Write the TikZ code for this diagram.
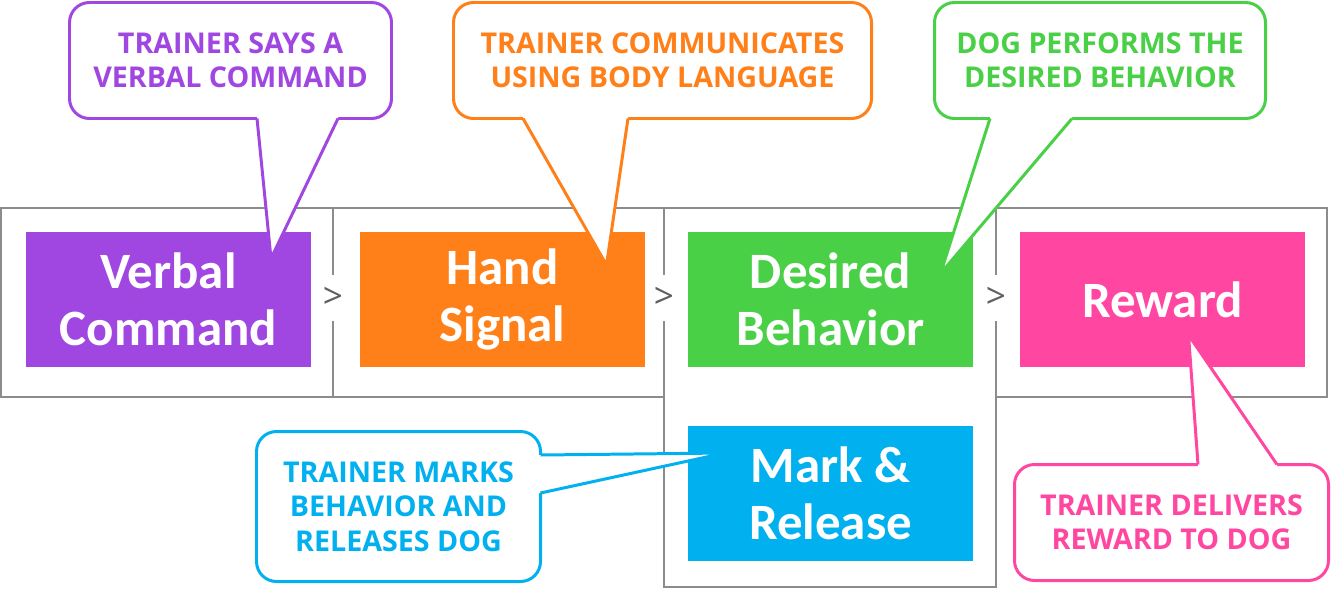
\documentclass[tikz,border=0pt]{standalone}
\usepackage{fontspec}
\usetikzlibrary{positioning, calc}
\newfontfamily\boxfont{Carlito}
\newfontfamily\notefont{Open Sans}
\definecolor{vpurple}{RGB}{160,71,226}
\definecolor{horange}{RGB}{255,127,24}
\definecolor{dgreen}{RGB}{74,208,71}
\definecolor{mblue}{RGB}{0,176,239}
\definecolor{rpink}{RGB}{255,71,161}
\definecolor{framegray}{RGB}{140,140,140}
\definecolor{sepgray}{RGB}{96,96,96}
\tikzset{
  stepbox/.style={rectangle, minimum width=5.7cm, minimum height=2.7cm,
    inner sep=0pt, outer sep=0pt, text=white, align=center,
    font=\boxfont\bfseries\fontsize{29}{32.3}\selectfont},
  frame/.style={draw=framegray, line width=1.1pt},
  sep/.style={fill=white, inner sep=1pt, minimum height=0.92cm,
    text=sepgray, font=\notefont\fontsize{20}{20}\selectfont},
  note/.style={rectangle, rounded corners=0.4cm, draw, line width=1.7pt,
    fill=white, inner sep=0pt, minimum height=2.32cm, align=center,
    font=\notefont\bfseries\fontsize{16.3}{19.6}\selectfont},
  tail/.style={line width=1.7pt, line join=miter},
}

\begin{document}
\begin{tikzpicture}
\useasboundingbox (0,0) rectangle (26.64,-11.8);

% Frames
\draw[frame] (0.02,-4.16)  rectangle (6.66,-7.94);
\draw[frame] (6.66,-4.16)  rectangle (13.28,-7.94);
\draw[frame] (13.28,-4.16) rectangle (19.92,-11.74);
\draw[frame] (19.92,-4.16) rectangle (26.54,-7.94);

% Steps
\node (verbal) [stepbox, fill=vpurple] at (3.37,-5.99) {Verbal\\Command};
\node (hand) [stepbox, fill=horange, right=0.98cm of verbal] {Hand\\Signal};
\node (desired) [stepbox, fill=dgreen, right=0.86cm of hand] {Desired\\Behavior};
\node (reward) [stepbox, fill=rpink, right=0.94cm of desired] {Reward};
\node (mark) [stepbox, fill=mblue, below=1.18cm of desired] {Mark \&\\Release};

% Separators
\node (sep1) [sep] at (6.66,-5.96) {>};
\node (sep2) [sep] at (13.28,-5.96) {>};
\node (sep3) [sep] at (19.92,-5.96) {>};

% Callouts
\node (c1) [note, draw=vpurple, text=vpurple, minimum width=6.44cm] at (4.61,-1.21)
  {TRAINER SAYS A\\VERBAL COMMAND};
\node (c2) [note, draw=horange, text=horange, minimum width=8.36cm] at (13.25,-1.21)
  {TRAINER COMMUNICATES\\USING BODY LANGUAGE};
\node (c3) [note, draw=dgreen, text=dgreen, minimum width=6.62cm] at (22.0,-1.21)
  {DOG PERFORMS THE\\DESIRED BEHAVIOR};
\node (c4) [note, draw=mblue, text=mblue, minimum width=5.68cm, minimum height=3.0cm] at (7.97,-10.13)
  {TRAINER MARKS\\BEHAVIOR AND\\RELEASES DOG};
\node (c5) [note, draw=rpink, text=rpink, minimum width=6.28cm] at (23.43,-10.45)
  {TRAINER DELIVERS\\REWARD TO DOG};

% Tail tips
\coordinate (t1) at (5.42,-5.17);
\coordinate (t2) at (12.13,-5.3);
\coordinate (t3) at (18.81,-5.47);
\coordinate (t4) at (14.5,-9.06);
\coordinate (t5) at (23.77,-6.7);

% Tails
\fill[white] (5.14,-2.28) -- (5.14,-2.37) -- (t1) -- (6.76,-2.37) -- (6.76,-2.28) -- cycle;
\draw[tail, vpurple] (5.14,-2.37) -- (t1) -- (6.76,-2.37);

\fill[white] (10.46,-2.28) -- (10.46,-2.37) -- (t2) -- (12.56,-2.37) -- (12.56,-2.28) -- cycle;
\draw[tail, horange] (10.46,-2.37) -- (t2) -- (12.56,-2.37);

\fill[white] (19.8,-2.28) -- (19.8,-2.37) -- (t3) -- (21.44,-2.37) -- (21.44,-2.28) -- cycle;
\draw[tail, dgreen] (19.8,-2.37) -- (t3) -- (21.44,-2.37);

\fill[white] (10.72,-9.1) -- (10.81,-9.1) -- (t4) -- (10.81,-9.86) -- (10.72,-9.86) -- cycle;
\draw[tail, mblue] (10.81,-9.1) -- (t4) -- (10.81,-9.86);

\fill[white] (23.96,-9.37) -- (23.96,-9.29) -- (t5) -- (25.54,-9.29) -- (25.54,-9.37) -- cycle;
\draw[tail, rpink] (23.96,-9.29) -- (t5) -- (25.54,-9.29);

\end{tikzpicture}
\end{document}
